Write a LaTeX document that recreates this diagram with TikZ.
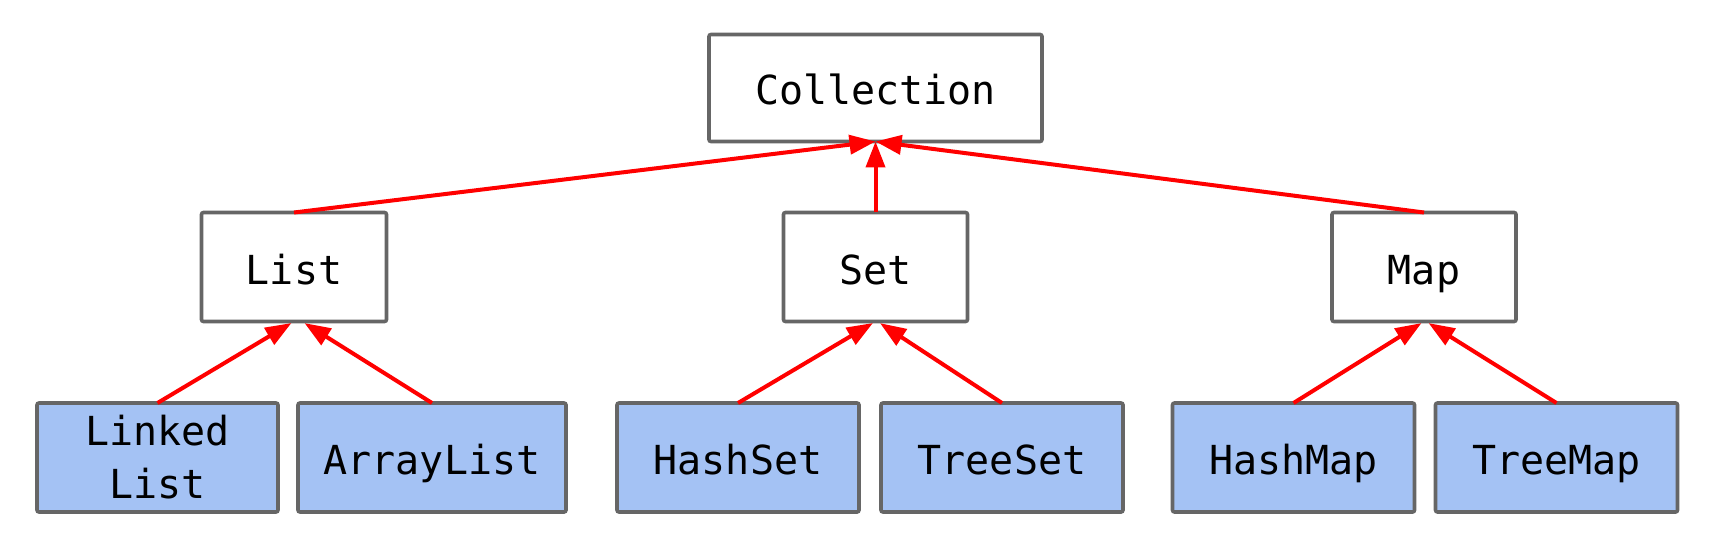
\documentclass[tikz,border=0pt]{standalone}
\usepackage{fontspec}
\setmonofont{DejaVu Sans Mono}
\usetikzlibrary{arrows.meta}
\definecolor{boxgray}{HTML}{666666}
\definecolor{boxblue}{HTML}{A4C2F4}
\definecolor{arrred}{HTML}{FF0000}
\begin{document}
\begin{tikzpicture}[x=0.5pt,y=-0.5pt,
  basebox/.style={draw=boxgray, line width=1.8pt, rounded corners=1pt,
    font=\ttfamily\fontsize{20pt}{26.5pt}\selectfont, inner sep=0pt, outer sep=0pt},
  ifacebox/.style={basebox, fill=white, minimum height=54.5pt, text height=17pt, text depth=0pt},
  implbox/.style={basebox, fill=boxblue, minimum height=54.5pt, minimum width=121pt},
  oneline/.style={text height=17pt, text depth=0pt},
  arr/.style={draw=arrred, line width=2pt, -{Triangle[length=13pt,width=9.5pt]}}
]
\useasboundingbox (0,0) rectangle (1716,534);
% top
\node[ifacebox, minimum width=166.5pt, minimum height=53.5pt] (coll) at (875.5,88) {Collection};
% interfaces
\node[ifacebox, minimum width=92.5pt] (list) at (294,267) {List};
\node[ifacebox, minimum width=92pt] (set) at (875.5,267) {Set};
\node[ifacebox, minimum width=92pt] (map) at (1424,267) {Map};
% implementations
\node[implbox, minimum width=120.5pt, align=center, text depth=1pt] (linked) at (157.5,457.5) {Linked\\List};
\node[implbox, oneline, minimum width=134pt] (array) at (432,457.5) {ArrayList};
\node[implbox, oneline] (hset) at (738,457.5) {HashSet};
\node[implbox, oneline] (tset) at (1002,457.5) {TreeSet};
\node[implbox, oneline] (hmap) at (1293.5,457.5) {HashMap};
\node[implbox, oneline] (tmap) at (1556.5,457.5) {TreeMap};
% connectors
\draw[arr] (list.north) -- (coll.south);
\draw[arr] (set.north) -- (coll.south);
\draw[arr] (map.north) -- (coll.south);
\draw[arr, shorten >=1.5pt] (linked.north) -- (list.south);
\draw[arr, shorten >=1.5pt] (array.north) -- ([xshift=4pt]list.south);
\draw[arr, shorten >=1.5pt] (hset.north) -- (set.south);
\draw[arr, shorten >=1.5pt] (tset.north) -- ([xshift=1pt]set.south);
\draw[arr, shorten >=1.5pt] (hmap.north) -- (map.south);
\draw[arr, shorten >=1.5pt] (tmap.north) -- ([xshift=1pt]map.south);
\end{tikzpicture}
\end{document}
